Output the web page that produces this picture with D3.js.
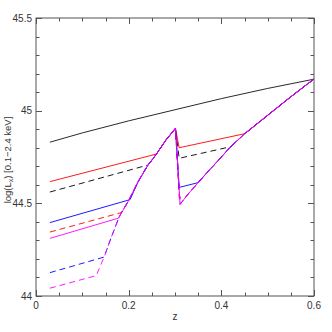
<!DOCTYPE html>
<html><head><meta charset="utf-8">
<script src="https://cdn.jsdelivr.net/npm/d3@7"></script>
<style>html,body{margin:0;padding:0;background:#fff;}svg{display:block;}</style>
</head><body>
<svg id="chart" width="332" height="332"></svg>
<script>
// ---- data ----
const xMajorTicks = [0, 0.2, 0.4, 0.6];
const xTickLabels = ["0", "0.2", "0.4", "0.6"];
const yMajorTicks = [44, 44.5, 45, 45.5];
const yTickLabels = ["44", "44.5", "45", "45.5"];

// limit curve, low-z branch and high-z branch
const curveLoZ = [0.13, 0.147, 0.16, 0.18, 0.2, 0.22, 0.24, 0.26, 0.28, 0.301];
const curveLoY = [44.11, 44.21, 44.30, 44.43, 44.515, 44.615, 44.70, 44.766, 44.84, 44.905];
const curveHiZ = [0.311, 0.33, 0.35, 0.38, 0.42, 0.45, 0.5, 0.55, 0.6];
const curveHiY = [44.495, 44.555, 44.612, 44.695, 44.805, 44.875, 44.975, 45.075, 45.171];

// top black solid line
const topZ = [0.03, 0.1, 0.2, 0.3, 0.4, 0.5, 0.6];
const topY = [44.83, 44.88, 44.945, 45.005, 45.065, 45.12, 45.17];

// the seven coloured series
const seriesColor  = ["#ff0000", "#000000", "#0000ff", "#ff0000", "#ff00ff", "#0000ff", "#ff00ff"];
const seriesDashed = [false, true, false, true, false, true, true];
const seriesStartZ = 0.03;
const seriesStartY = [44.617, 44.561, 44.396, 44.345, 44.311, 44.126, 44.042];
const seriesJoinLoZ = [0.26, 0.242, 0.203, 0.184, 0.178, 0.147, 0.13];
const seriesJoinLoY = [44.766, 44.707, 44.52, 44.45, 44.42, 44.21, 44.11];
const seriesDropZ = 0.309;
const seriesDropY = [44.80, 44.743, 44.586, 44.53, null, null, null];
const seriesJoinHiZ = [0.451, 0.421, 0.349, 0.322, null, null, null];
const seriesJoinHiY = [44.876, 44.806, 44.611, 44.53, null, null, null];

// ---- drawing ----
const svg = d3.select("#chart");
const L = 36, R = 314, T = 18, B = 296;
const x = d3.scaleLinear().domain([0, 0.6]).range([L, R]);
const y = d3.scaleLinear().domain([44, 45.5]).range([B, T]);
const line = d3.line().x(d => x(d[0])).y(d => y(d[1]));

const axisColor = "#555";
const font = "'Liberation Sans', 'DejaVu Sans', sans-serif";

function buildSeries(i) {
  const pts = [[seriesStartZ, seriesStartY[i]], [seriesJoinLoZ[i], seriesJoinLoY[i]]];
  curveLoZ.forEach((z, k) => { if (z > seriesJoinLoZ[i] + 0.005) pts.push([z, curveLoY[k]]); });
  if (seriesDropY[i] !== null) {
    pts.push([seriesDropZ, seriesDropY[i]]);
    pts.push([seriesJoinHiZ[i], seriesJoinHiY[i]]);
    curveHiZ.forEach((z, k) => { if (z > seriesJoinHiZ[i] + 0.005) pts.push([z, curveHiY[k]]); });
  } else {
    curveHiZ.forEach((z, k) => pts.push([z, curveHiY[k]]));
  }
  return pts;
}

const g = svg.append("g");
g.append("path")
  .attr("d", line(topZ.map((z, k) => [z, topY[k]])))
  .attr("fill", "none").attr("stroke", "#111").attr("stroke-width", 0.9);

// dashed series first, solid series on top
const order = [1, 3, 5, 6, 0, 2, 4];
order.forEach(i => {
  g.append("path")
    .attr("d", line(buildSeries(i)))
    .attr("fill", "none")
    .attr("stroke", seriesColor[i])
    .attr("stroke-width", 0.9)
    .attr("stroke-dasharray", seriesDashed[i] ? "6,4" : null);
});

// frame
svg.append("rect").attr("x", L).attr("y", T).attr("width", R - L).attr("height", B - T)
  .attr("fill", "none").attr("stroke", axisColor).attr("stroke-width", 1);

// ticks (inward on all four sides)
const xMinor = d3.range(0, 0.6001, 0.05);
const yMinor = d3.range(44, 45.5001, 0.1);
const isMajor = (v, arr) => arr.some(a => Math.abs(a - v) < 1e-6);
const tg = svg.append("g").attr("stroke", axisColor).attr("stroke-width", 1);
xMinor.forEach(v => {
  const len = isMajor(v, xMajorTicks) ? 6 : 3.5;
  const px = Math.round(x(v)) + 0.5;
  tg.append("line").attr("x1", px).attr("x2", px).attr("y1", B).attr("y2", B - len);
  tg.append("line").attr("x1", px).attr("x2", px).attr("y1", T).attr("y2", T + len);
});
yMinor.forEach(v => {
  const len = isMajor(v, yMajorTicks) ? 6 : 3.5;
  const py = Math.round(y(v)) + 0.5;
  tg.append("line").attr("x1", L).attr("x2", L + len).attr("y1", py).attr("y2", py);
  tg.append("line").attr("x1", R).attr("x2", R - len).attr("y1", py).attr("y2", py);
});

// tick labels
xMajorTicks.forEach((v, k) => {
  svg.append("text").attr("x", x(v)).attr("y", 309)
    .attr("text-anchor", "middle").attr("font-family", font).attr("font-size", 10)
    .attr("fill", "#333").text(xTickLabels[k]);
});
yMajorTicks.forEach((v, k) => {
  svg.append("text").attr("x", 32).attr("y", y(v) + 3.5)
    .attr("text-anchor", "end").attr("font-family", font).attr("font-size", 10)
    .attr("fill", "#333").text(yTickLabels[k]);
});

// axis titles
svg.append("text").attr("x", x(0.3)).attr("y", 320)
  .attr("text-anchor", "middle").attr("font-family", font).attr("font-size", 10)
  .attr("fill", "#333").text("z");

const yl = svg.append("text")
  .attr("transform", "translate(11,160) rotate(-90)")
  .attr("text-anchor", "middle").attr("font-family", font).attr("font-size", 9.5)
  .attr("fill", "#333");
yl.append("tspan").text("log(L");
yl.append("tspan").attr("font-size", 7).attr("dy", 2).text("x");
yl.append("tspan").attr("dy", -2).text(")  [0.1\u22122.4  keV]");
</script>
</body></html>
